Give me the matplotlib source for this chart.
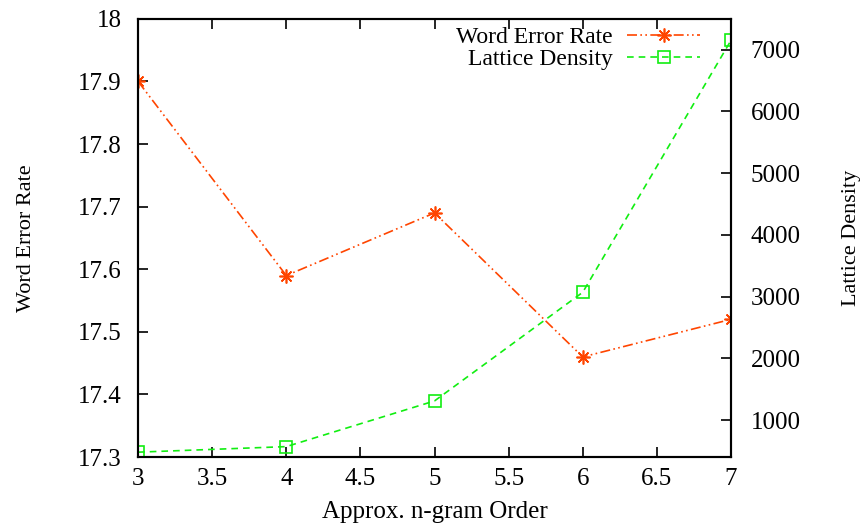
import matplotlib
matplotlib.use("Agg")
from matplotlib import pyplot as plt

plt.rcParams['font.family'] = ['Liberation Serif', 'DejaVu Serif']

# data
order = [3, 4, 5, 6, 7]
wer = [17.90, 17.59, 17.69, 17.46, 17.52]
density = [480, 570, 1310, 3070, 7150]

wer_col = '#ff4500'
dens_col = '#11ee11'

fig = plt.figure(figsize=(8.63, 5.23), dpi=100)
ax = fig.add_axes([0.160, 0.126, 0.687, 0.838])
ax2 = ax.twinx()

l1, = ax.plot(order, wer, color=wer_col, lw=1.2, dashes=[6, 2, 1, 2, 1, 2],
              marker=(8, 2, 0), ms=10, mew=1.2, label='Word Error Rate')
l2, = ax2.plot(order, density, color=dens_col, lw=1.2, dashes=[4, 3],
               marker='s', ms=8, mfc='none', mec=dens_col, mew=1.2,
               label='Lattice Density')

ax.set_xlim(3, 7)
ax.set_ylim(17.3, 18.0)
ax2.set_ylim(400, 7500)
ax.set_xticks([3, 3.5, 4, 4.5, 5, 5.5, 6, 6.5, 7])
ax.set_xticklabels(['3', '3.5', '4', '4.5', '5', '5.5', '6', '6.5', '7'])
ax.set_yticks([17.3, 17.4, 17.5, 17.6, 17.7, 17.8, 17.9, 18.0])
ax.set_yticklabels(['17.3', '17.4', '17.5', '17.6', '17.7', '17.8', '17.9', '18'])
ax2.set_yticks([1000, 2000, 3000, 4000, 5000, 6000, 7000])

for a in (ax, ax2):
    for s in a.spines.values():
        s.set_linewidth(1.5)
ax.tick_params(axis='x', direction='in', length=7, width=1.2, top=True,
               labelsize=18, pad=8)
ax.tick_params(axis='y', direction='in', length=7, width=1.2, right=False,
               labelsize=18, pad=12)
ax2.tick_params(axis='y', direction='in', length=7, width=1.2, labelsize=18,
                pad=14)

ax.set_xlabel('Approx. n-gram Order', fontsize=18, labelpad=8)
ax.set_ylabel('Word Error Rate', fontsize=16, labelpad=30)
ax2.set_ylabel('Lattice Density', fontsize=16, labelpad=30)

ax2.legend(handles=[l1, l2], loc='upper right', frameon=False, fontsize=17,
           markerfirst=False, handlelength=3.1, borderaxespad=0.5,
           borderpad=0.3, labelspacing=0.0, handletextpad=0.6,
           bbox_to_anchor=(0.98, 1.025))

fig.savefig('out.png', dpi=100)
